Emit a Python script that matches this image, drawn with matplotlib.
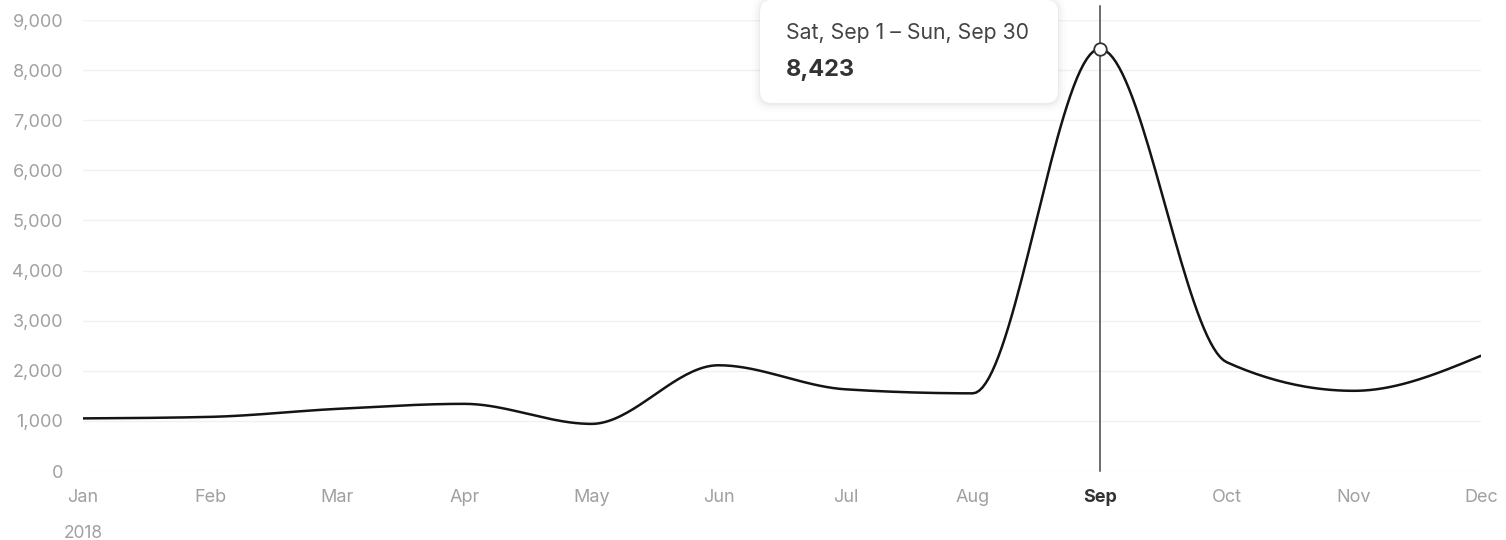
import numpy as np
import matplotlib
matplotlib.use("Agg")
import matplotlib.pyplot as plt
from matplotlib.patches import FancyBboxPatch
from matplotlib.ticker import FuncFormatter

months = ["Jan", "Feb", "Mar", "Apr", "May", "Jun", "Jul", "Aug", "Sep", "Oct", "Nov", "Dec"]
values = [1050, 1080, 1240, 1340, 940, 2110, 1630, 1550, 8423, 2170, 1600, 2300]
year_label = "2018"
yticks = [0, 1000, 2000, 3000, 4000, 5000, 6000, 7000, 8000, 9000]
hover_index = 8
tooltip_title = "Sat, Sep 1 \u2013 Sun, Sep 30"

plt.rcParams['font.family'] = ['Inter', 'DejaVu Sans']

W, H = 1506, 540
fig = plt.figure(figsize=(W / 100, H / 100), dpi=100)
ax = fig.add_axes([83 / W, 1 - 471 / H, (1481 - 83) / W, (471 - 20) / H])

x = np.arange(len(values), dtype=float)
y = np.array(values, dtype=float)


def monotone_x(xs, ys, n=40):
    # d3 curveMonotoneX rendering of the path through the data points
    m = len(xs)
    t = np.zeros(m)
    for i in range(1, m - 1):
        h0 = xs[i] - xs[i - 1]
        h1 = xs[i + 1] - xs[i]
        s0 = (ys[i] - ys[i - 1]) / h0
        s1 = (ys[i + 1] - ys[i]) / h1
        p = (s0 * h1 + s1 * h0) / (h0 + h1)
        t[i] = (np.sign(s0) + np.sign(s1)) * min(abs(s0), abs(s1), 0.5 * abs(p))
    h = xs[1] - xs[0]
    t[0] = (3 * (ys[1] - ys[0]) / h - t[1]) / 2
    h = xs[-1] - xs[-2]
    t[-1] = (3 * (ys[-1] - ys[-2]) / h - t[-2]) / 2
    px, py = [], []
    u = np.linspace(0, 1, n)
    for i in range(m - 1):
        dx = (xs[i + 1] - xs[i]) / 3
        P0 = (xs[i], ys[i])
        P1 = (xs[i] + dx, ys[i] + dx * t[i])
        P2 = (xs[i + 1] - dx, ys[i + 1] - dx * t[i + 1])
        P3 = (xs[i + 1], ys[i + 1])
        b0 = (1 - u) ** 3
        b1 = 3 * (1 - u) ** 2 * u
        b2 = 3 * (1 - u) * u ** 2
        b3 = u ** 3
        px.append(b0 * P0[0] + b1 * P1[0] + b2 * P2[0] + b3 * P3[0])
        py.append(b0 * P0[1] + b1 * P1[1] + b2 * P2[1] + b3 * P3[1])
    return np.concatenate(px), np.concatenate(py)


cx, cy = monotone_x(x, y)

for yt in yticks:
    ax.axhline(yt, color="#f1f1f1", lw=1.0, zorder=0)

ax.plot(cx, cy, color="#141414", lw=1.8, solid_capstyle="round", zorder=3)

ax.axvline(x[hover_index], ymin=0, ymax=1.03, color="#444444", lw=1.1, zorder=2, clip_on=False)
ax.plot([x[hover_index]], [y[hover_index]], marker="o", ms=9, mfc="white", mec="#333333",
        mew=1.3, zorder=5)

ax.set_xlim(0, len(values) - 1)
ax.set_ylim(0, 9000)
ax.set_yticks(yticks)
ax.yaxis.set_major_formatter(FuncFormatter(lambda v, p: f"{int(v):,}"))
ax.set_xticks(x)
ax.set_xticklabels(months)
for spine in ax.spines.values():
    spine.set_visible(False)
ax.tick_params(axis="both", length=0, labelsize=13, labelcolor="#a0a0a0")
ax.tick_params(axis="y", pad=14.4)
ax.tick_params(axis="x", pad=13)
for i, lab in enumerate(ax.get_xticklabels()):
    if i == hover_index:
        lab.set_color("#333333")
        lab.set_fontweight("bold")

fig.text(83 / W, 1 - 533 / H, year_label, ha="center", va="center", fontsize=12.5, color="#a0a0a0")

# tooltip
bx0, by0, bx1, by1 = 760, 0, 1058, 103
for k, a in [(8, 0.01), (5, 0.015), (3, 0.02), (1, 0.03)]:
    sh = FancyBboxPatch(((bx0 - k) / W, 1 - (by1 + k + 1) / H), (bx1 - bx0 + 2 * k) / W,
                        (by1 - by0 + 2 * k) / H,
                        boxstyle=f"round,pad=0,rounding_size={(12 + k) / W}",
                        transform=fig.transFigure, fc="#000000", ec="none", alpha=a, zorder=8,
                        mutation_aspect=W / H)
    fig.patches.append(sh)
box = FancyBboxPatch((bx0 / W, 1 - by1 / H), (bx1 - bx0) / W, (by1 - by0) / H,
                     boxstyle=f"round,pad=0,rounding_size={12 / W}",
                     transform=fig.transFigure, fc="white", ec="none", zorder=9,
                     mutation_aspect=W / H)
fig.patches.append(box)
fig.text(786 / W, 1 - 33 / H, tooltip_title, ha="left", va="center", fontsize=15.3,
         color="#444444", zorder=10)
fig.text(786 / W, 1 - 70 / H, f"{values[hover_index]:,}", ha="left", va="center", fontsize=17,
         fontweight="bold", color="#333333", zorder=10)

fig.savefig("out.png", dpi=100, facecolor="white")
